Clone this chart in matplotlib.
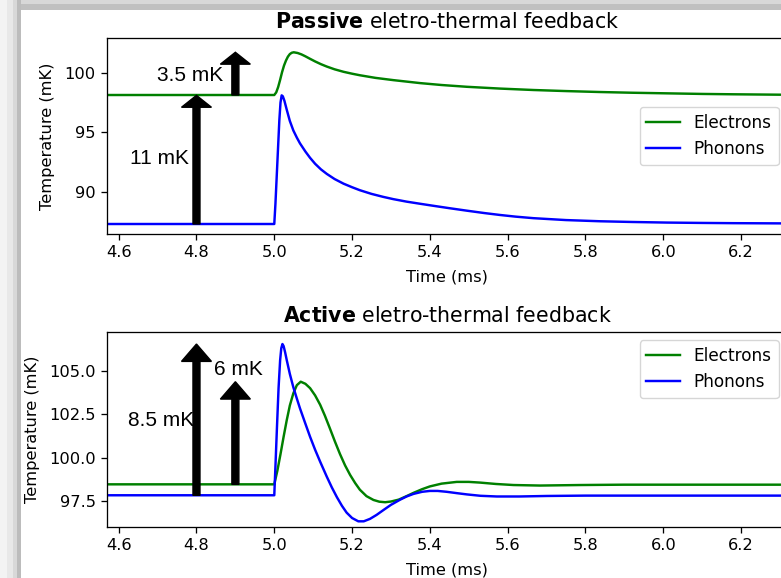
import numpy as np
import matplotlib
matplotlib.use('Agg')
import matplotlib.pyplot as plt
from matplotlib.patches import Rectangle

# passive ETF
t_el_passive = [4.57, 5.000, 5.005, 5.010, 5.015, 5.020, 5.025, 5.030, 5.035, 5.040,
                5.045, 5.050, 5.060, 5.070, 5.080, 5.092, 5.105, 5.120, 5.135, 5.155,
                5.178, 5.200, 5.220, 5.260, 5.306, 5.375, 5.430, 5.495, 5.580, 5.666,
                5.750, 5.838, 5.920, 6.009, 6.100, 6.180, 6.320]
T_el_passive = [98.13, 98.13, 98.35, 98.80, 99.40, 100.05, 100.60, 101.02, 101.35, 101.57,
                101.68, 101.72, 101.66, 101.54, 101.38, 101.17, 100.95, 100.72, 100.52, 100.29,
                100.08, 99.92, 99.79, 99.57, 99.38, 99.13, 98.97, 98.82, 98.67, 98.55,
                98.46, 98.38, 98.32, 98.27, 98.22, 98.19, 98.15]

t_ph_passive = [4.57, 5.000, 5.003, 5.008, 5.013, 5.016, 5.019, 5.022, 5.026, 5.032,
                5.040, 5.049, 5.058, 5.066, 5.080, 5.092, 5.105, 5.120, 5.135, 5.155,
                5.178, 5.200, 5.220, 5.250, 5.280, 5.306, 5.340, 5.375, 5.409, 5.450,
                5.495, 5.540, 5.580, 5.620, 5.666, 5.750, 5.838, 5.920, 6.009, 6.100,
                6.180, 6.320]
T_ph_passive = [87.29, 87.29, 89.00, 92.50, 96.00, 97.50, 98.10, 98.02, 97.65, 96.90,
                95.95, 95.15, 94.55, 94.07, 93.38, 92.85, 92.35, 91.88, 91.50, 91.07,
                90.68, 90.38, 90.13, 89.82, 89.57, 89.38, 89.17, 88.99, 88.82, 88.62,
                88.41, 88.21, 88.05, 87.91, 87.78, 87.62, 87.52, 87.46, 87.41, 87.38,
                87.36, 87.34]

# active ETF
t_el_active = [4.57, 5.000, 5.008, 5.016, 5.024, 5.032, 5.040, 5.049, 5.058, 5.068,
               5.080, 5.092, 5.105, 5.118, 5.130, 5.143, 5.156, 5.169, 5.182, 5.195,
               5.208, 5.220, 5.237, 5.255, 5.270, 5.285, 5.300, 5.320, 5.340, 5.358,
               5.380, 5.400, 5.430, 5.469, 5.500, 5.529, 5.570, 5.615, 5.683, 5.786,
               5.900, 6.100, 6.320]
T_el_active = [98.46, 98.46, 99.25, 100.20, 101.20, 102.15, 103.00, 103.70, 104.17, 104.37,
               104.25, 104.00, 103.58, 103.04, 102.42, 101.68, 100.92, 100.20, 99.55, 99.00,
               98.53, 98.15, 97.78, 97.56, 97.46, 97.43, 97.47, 97.58, 97.78, 97.97,
               98.18, 98.34, 98.50, 98.60, 98.60, 98.56, 98.48, 98.42, 98.39, 98.42,
               98.44, 98.44, 98.44]

t_ph_active = [4.57, 5.000, 5.003, 5.007, 5.011, 5.015, 5.018, 5.021, 5.024, 5.028,
               5.032, 5.040, 5.049, 5.058, 5.066, 5.080, 5.092, 5.105, 5.118, 5.135,
               5.148, 5.161, 5.174, 5.186, 5.200, 5.216, 5.230, 5.246, 5.263, 5.280,
               5.300, 5.323, 5.340, 5.358, 5.380, 5.400, 5.420, 5.443, 5.470, 5.495,
               5.530, 5.572, 5.630, 5.701, 5.800, 6.000, 6.320]
T_ph_active = [97.83, 97.83, 99.50, 101.80, 104.00, 105.60, 106.30, 106.54, 106.42, 106.05,
               105.62, 104.82, 104.05, 103.40, 102.84, 101.95, 101.20, 100.45, 99.76, 98.90,
               98.28, 97.72, 97.22, 96.83, 96.52, 96.33, 96.33, 96.47, 96.70, 96.97,
               97.28, 97.57, 97.76, 97.91, 98.03, 98.08, 98.08, 98.03, 97.95, 97.88,
               97.80, 97.76, 97.76, 97.79, 97.81, 97.81, 97.81]

x_ticks = [4.6, 4.8, 5.0, 5.2, 5.4, 5.6, 5.8, 6.0, 6.2]

s = 1.17
plt.rcParams.update({
    'font.size': 10 * s,
    'lines.linewidth': 1.5 * s,
    'axes.linewidth': 0.8 * s,
    'xtick.major.size': 3.5 * s, 'ytick.major.size': 3.5 * s,
    'xtick.major.width': 0.8 * s, 'ytick.major.width': 0.8 * s,
    'xtick.major.pad': 3.5 * s, 'ytick.major.pad': 3.5 * s,
    'axes.titlepad': 6 * s, 'axes.titlesize': 14.8,
    'legend.fontsize': 12.2,
})

fig = plt.figure(figsize=(7.81, 5.78), dpi=100)

# screenshot shadow frame
W, H = 781, 578
for x0, x1, c in [(0, 7, '#f3f3f3'), (7, 13, '#e8e8e8'), (13, 17, '#d8d8d8'), (17, 21, '#bcbcbc')]:
    fig.add_artist(Rectangle((x0 / W, 0), (x1 - x0) / W, 1, transform=fig.transFigure,
                             facecolor=c, edgecolor='none', zorder=-5))
for y0, y1, c in [(0, 4, '#d8d8d8'), (4, 10, '#c0c0c0')]:
    fig.add_artist(Rectangle((21 / W, 1 - y1 / H), 1, (y1 - y0) / H, transform=fig.transFigure,
                             facecolor=c, edgecolor='none', zorder=-5))

ax1 = fig.add_axes([107 / W, 1 - 234 / H, 680 / W, 196 / H])
ax2 = fig.add_axes([107 / W, 1 - 526.7 / H, 680 / W, 195 / H])

label_font = dict(family=['Liberation Sans', 'DejaVu Sans'], fontsize=15)


def arrow(ax, x, y0, y1):
    ax.arrow(x, y0, 0, y1 - y0, width=0.018, head_width=0.077, head_length=1.0,
             length_includes_head=True, color='k', zorder=3)


# --- passive
ax1.plot(t_el_passive, T_el_passive, color='green', label='Electrons')
ax1.plot(t_ph_passive, T_ph_passive, color='blue', label='Phonons')
arrow(ax1, 4.8, T_ph_passive[0], max(T_ph_passive))
arrow(ax1, 4.9, T_el_passive[0], max(T_el_passive))
ax1.text(4.704, 92.8, '11 mK', ha='center', va='center', **label_font)
ax1.text(4.783, 99.8, '3.5 mK', ha='center', va='center', **label_font)
ax1.set_xlim(4.570, 6.318)
ax1.set_ylim(86.45, 102.92)
ax1.set_xticks(x_ticks)
ax1.set_yticks([90, 95, 100])
ax1.set_title(r'$\bf{Passive}$ eletro-thermal feedback')
ax1.set_xlabel('Time (ms)', labelpad=6.5)
ax1.set_ylabel('Temperature (mK)', labelpad=6.8)
ax1.legend(loc='center right')

# --- active
ax2.plot(t_el_active, T_el_active, color='green', label='Electrons')
ax2.plot(t_ph_active, T_ph_active, color='blue', label='Phonons')
arrow(ax2, 4.8, T_ph_active[0], max(T_ph_active))
arrow(ax2, 4.9, T_el_active[0], max(T_el_active))
ax2.text(4.708, 102.16, '8.5 mK', ha='center', va='center', **label_font)
ax2.text(4.909, 105.08, '6 mK', ha='center', va='center', **label_font)
ax2.set_xlim(4.570, 6.318)
ax2.set_ylim(96.02, 107.25)
ax2.set_xticks(x_ticks)
ax2.set_yticks([97.5, 100.0, 102.5, 105.0])
ax2.set_title(r'$\bf{Active}$ eletro-thermal feedback')
ax2.set_xlabel('Time (ms)', labelpad=6.5)
ax2.set_ylabel('Temperature (mK)', labelpad=6.8)
ax2.legend(loc='upper right')

fig.savefig('out.png', dpi=100)
